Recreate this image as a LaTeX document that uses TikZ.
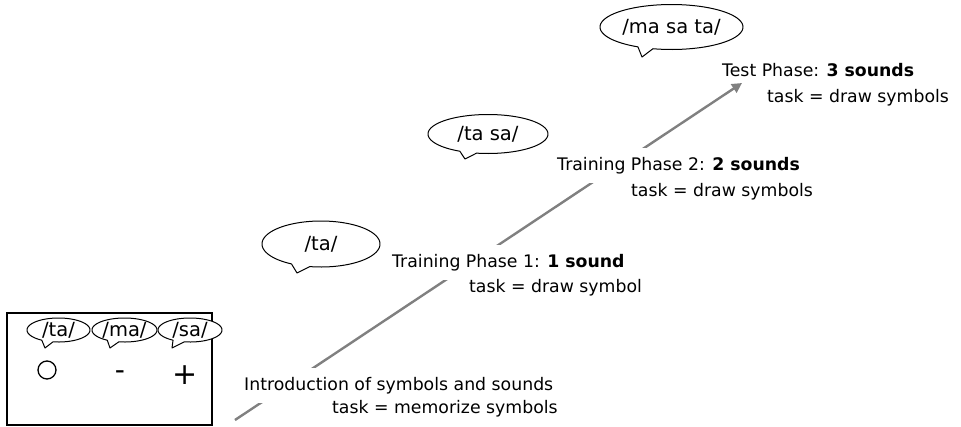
\documentclass[tikz,border=0pt]{standalone}
\usepackage{fontspec}
\setmainfont{DejaVu Sans}
\usetikzlibrary{arrows.meta}
% cx, cy, a, b, angle A (start of tail), angle B (negative), tip x, tip y
\newcommand\bubbleshape[8]{%
  \draw[bubline] plot[domain=#6:#5, samples=90] ({#1+#3*cos(\x)},{#2-#4*sin(\x)}) -- (#7,#8) -- cycle;}
\begin{document}
\begin{tikzpicture}[x=1pt,y=-1pt,
  txt/.style={font=\fontsize{17.3}{20}\selectfont, inner sep=0pt, anchor=base west},
  blocker/.style={txt, fill=white, inner xsep=0pt, inner ysep=9pt},
  bubtxt/.style={font=\fontsize{19.5}{22}\selectfont, inner sep=0pt},
  bubline/.style={draw=black, line width=1pt, fill=white, line join=round},
  flow/.style={draw=gray, line width=2.4pt, -{Triangle[length=10pt,width=10pt]}},
  frame/.style={draw=black, line width=1.2pt, inner sep=0pt}]
\useasboundingbox (0,0) rectangle (961,426);

% box with symbols
\node[frame, minimum width=205pt, minimum height=112pt] (box) at (109.5,369) {};
\bubbleshape{58.5}{330}{31.5}{12}{238}{-100}{45}{348}
\node[bubtxt] (s1) at (58.5,330) {/ta/};
\bubbleshape{124.5}{330}{32.5}{12}{238}{-100}{110}{348}
\node[bubtxt] (s2) at (124.5,330) {/ma/};
\bubbleshape{190}{330}{32}{12}{238}{-100}{172}{348}
\node[bubtxt] (s3) at (190,330) {/sa/};
\node[draw=black, line width=1.3pt, circle, minimum size=18pt, inner sep=0pt] (sym1) at (47,370) {};
\node[font=\fontsize{28}{30}\selectfont, inner sep=0pt, anchor=base] (sym2) at (120,379) {-};
\node[font=\fontsize{30}{32}\selectfont, inner sep=0pt, anchor=base] (sym3) at (185,384) {+};

% arrow
\coordinate (start) at (235,420);
\coordinate (end) at (742,83);
\draw[flow] (start) -- (end);

% phase bubbles
\bubbleshape{321}{244}{59}{23}{240}{-101}{297}{273}
\node[bubtxt] (b1) at (321,244) {/ta/};
\bubbleshape{488}{134}{60}{19.5}{242}{-101}{465}{159}
\node[bubtxt] (b2) at (488,134) {/ta sa/};
\bubbleshape{671.5}{27}{71.5}{22.5}{242}{-105}{642}{57}
\node[bubtxt] (b3) at (671.5,27) {/ma sa ta/};

% texts
\node[blocker] (i1) at (244,390) {Introduction of symbols and sounds};
\node[txt] (i2) at (332,413) {task = memorize symbols};
\node[blocker] (p1a) at (392,267) {Training Phase 1: \textbf{1 sound}};
\node[txt] (p1b) at (469,292) {task = draw symbol};
\node[blocker] (p2a) at (557,170) {Training Phase 2: \textbf{2 sounds}};
\node[txt] (p2b) at (631,196) {task = draw symbols};
\node[txt] (t1) at (722,76) {Test Phase: \textbf{3 sounds}};
\node[txt] (t2) at (767,102) {task = draw symbols};
\end{tikzpicture}
\end{document}
